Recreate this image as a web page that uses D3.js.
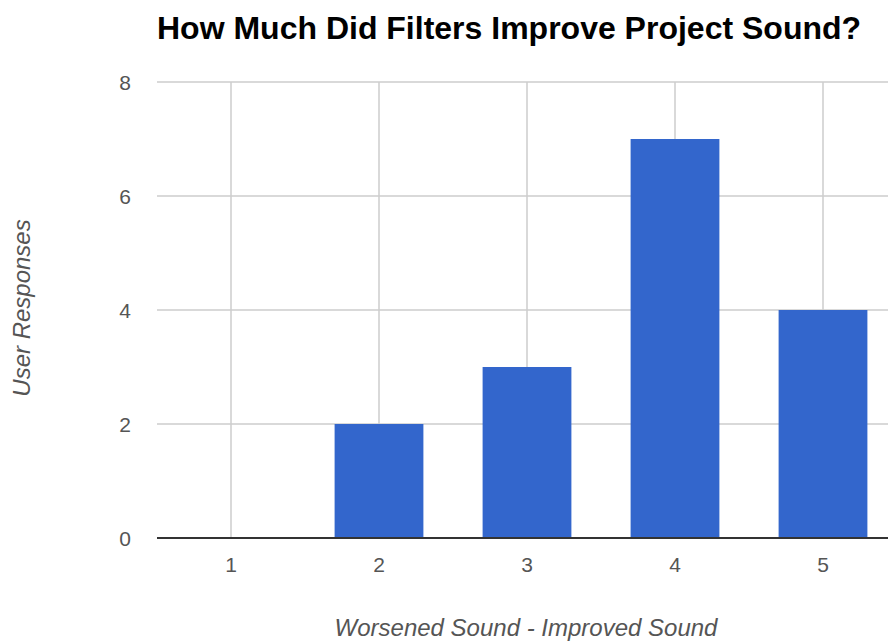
<!DOCTYPE html>
<html>
<head>
<meta charset="utf-8">
<script src="https://cdn.jsdelivr.net/npm/d3@7"></script>
<style>
  html, body { margin: 0; padding: 0; background: #fff; }
  svg { display: block; font-family: Arial, "Liberation Sans", sans-serif; }
</style>
</head>
<body>
<svg id="chart" width="888" height="641"></svg>
<script>
const categories = ["1", "2", "3", "4", "5"];
const values = [0, 2, 3, 7, 4];
const yTicks = [0, 2, 4, 6, 8];
const title = "How Much Did Filters Improve Project Sound?";
const xTitle = "Worsened Sound - Improved Sound";
const yTitle = "User Responses";

const svg = d3.select("#chart");
const plot = { left: 157, right: 897, top: 82, bottom: 538 };

const x = d3.scaleBand().domain(categories).range([plot.left, plot.right])
  .paddingInner(0.4).paddingOuter(0.2);
const y = d3.scaleLinear().domain([0, 8]).range([plot.bottom, plot.top]);

// horizontal gridlines
svg.append("g").selectAll("line").data(yTicks.filter(d => d !== 0)).join("line")
  .attr("x1", plot.left).attr("x2", plot.right)
  .attr("y1", d => y(d)).attr("y2", d => y(d))
  .attr("stroke", "#cccccc").attr("stroke-width", 1.5);

// vertical gridlines
svg.append("g").selectAll("line").data(categories).join("line")
  .attr("x1", d => x(d) + x.bandwidth() / 2).attr("x2", d => x(d) + x.bandwidth() / 2)
  .attr("y1", plot.top).attr("y2", plot.bottom)
  .attr("stroke", "#cccccc").attr("stroke-width", 1.5);

// bars
svg.append("g").selectAll("rect").data(categories.map((c, i) => ({ c, v: values[i] }))).join("rect")
  .attr("x", d => x(d.c)).attr("width", x.bandwidth())
  .attr("y", d => y(d.v)).attr("height", d => y(0) - y(d.v))
  .attr("fill", "#3366cc");

// baseline
svg.append("line")
  .attr("x1", plot.left).attr("x2", plot.right)
  .attr("y1", y(0)).attr("y2", y(0))
  .attr("stroke", "#333333").attr("stroke-width", 2);

// y tick labels
svg.append("g").selectAll("text").data(yTicks).join("text")
  .attr("x", 131).attr("y", d => y(d) + 8)
  .attr("text-anchor", "end")
  .attr("font-size", 21).attr("fill", "#555")
  .text(d => d);

// x tick labels
svg.append("g").selectAll("text").data(categories).join("text")
  .attr("x", d => x(d) + x.bandwidth() / 2).attr("y", 572)
  .attr("text-anchor", "middle")
  .attr("font-size", 21).attr("fill", "#555")
  .text(d => d);

// title
svg.append("text")
  .attr("x", 157).attr("y", 39)
  .attr("font-size", 32).attr("font-weight", "bold").attr("fill", "#000")
  .text(title);

// x axis title
svg.append("text")
  .attr("x", 526).attr("y", 636)
  .attr("text-anchor", "middle")
  .attr("font-size", 24).attr("font-style", "italic").attr("fill", "#555")
  .text(xTitle);

// y axis title
svg.append("text")
  .attr("transform", "translate(30,308) rotate(-90)")
  .attr("text-anchor", "middle")
  .attr("font-size", 24).attr("font-style", "italic").attr("fill", "#555")
  .text(yTitle);
</script>
</body>
</html>
